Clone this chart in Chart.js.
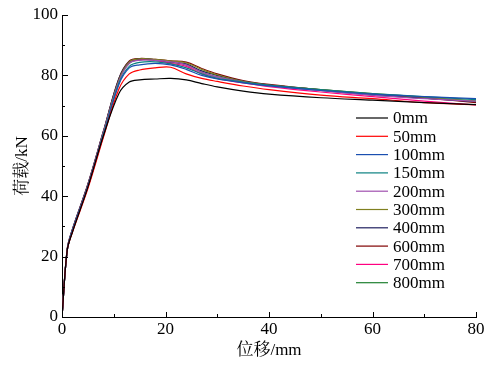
<!DOCTYPE html>
<html>
<head>
<meta charset="utf-8">
<script src="https://cdn.jsdelivr.net/npm/chart.js@4.4.1/dist/chart.umd.min.js"></script>
<style>
  html, body { margin: 0; padding: 0; background: #fff; }
  #wrap { width: 501px; height: 365px; }
</style>
</head>
<body>
<div id="wrap"><canvas id="c"></canvas></div>
<script>
// displacement (mm), shared by all curves
const dispMm = [0, 1, 2, 5, 8, 11, 13, 15, 18, 21, 24, 27, 30, 35, 40, 50, 60, 70, 80];

// load (kN) per spacing
const load0   = [0, 22, 28, 43, 60, 74, 77.8, 78.5, 78.8, 79, 78.5, 77.3, 76.2, 74.8, 73.8, 72.6, 71.8, 71, 70.3];
const load50  = [0, 22, 28, 42.5, 59.5, 75.5, 80.5, 81.8, 82.5, 82.7, 80.5, 79, 78, 76.5, 75.3, 73.5, 72.3, 71, 70.3];
const load100 = [0, 22, 28.5, 43, 60, 77, 82.5, 83.5, 84, 83.5, 82, 80, 78.8, 77.5, 76.5, 75, 73.8, 73, 72.3];
const load150 = [0, 22, 28.5, 43, 60.5, 77.5, 83, 84.3, 84.5, 83.8, 82.5, 80.5, 79, 77.8, 76.8, 75.3, 74, 73, 72];
const load200 = [0, 22, 28.5, 43.5, 61, 78, 84, 85, 85, 84.5, 83.5, 81, 79.5, 77.8, 76.5, 75, 73.5, 72.3, 71.5];
const load300 = [0, 22, 28.5, 43.5, 61, 78.5, 84.5, 85.5, 85.3, 84.8, 84.2, 82, 80.2, 78, 76.8, 75.3, 74, 72.8, 71.5];
const load400 = [0, 22.5, 29, 44, 61.5, 79, 84.5, 85.5, 85.2, 84.5, 83.8, 81.5, 80, 78, 76.8, 75, 73.5, 72.5, 71.3];
const load600 = [0, 22.5, 29, 44, 61.5, 79, 84.8, 85.6, 85.3, 84.8, 84.4, 82.3, 80.5, 78.3, 77, 75.2, 73.8, 72.5, 71];
const load700 = [0, 22, 28.5, 43.5, 61, 78.5, 84.3, 85.3, 85, 84, 83, 80.5, 79, 77.5, 76.3, 74.5, 73, 71.5, 70.2];
const load800 = [0, 22, 28.5, 43.5, 61, 78.5, 84, 85.2, 85, 84.3, 83.5, 81, 79.5, 77.8, 76.8, 75.3, 73.8, 72.5, 71.5];

const seriesLabels = ['0mm', '50mm', '100mm', '150mm', '200mm', '300mm', '400mm', '600mm', '700mm', '800mm'];
const seriesValues = [load0, load50, load100, load150, load200, load300, load400, load600, load700, load800];
const seriesColors = ['#000000', '#ff0000', '#1a4fb0', '#0a8080', '#a050b0', '#808020', '#202060', '#800000', '#ff0080', '#208030'];

const xTicks = [0, 20, 40, 60, 80];
const yTicks = [0, 20, 40, 60, 80, 100];

const SERIF = '"Liberation Serif"';
const SERIF_CJK = '"Liberation Serif", "Noto Serif CJK SC"';

const datasets = seriesLabels.map((label, i) => ({
  label,
  data: dispMm.map((x, j) => ({ x, y: seriesValues[i][j] })),
  borderColor: seriesColors[i],
  backgroundColor: seriesColors[i],
  borderWidth: 1.2,
  pointRadius: 0,
  tension: 0.35
}));

// inward tick marks (major on labelled values, minor in between) + inset legend
const chartDecor = {
  id: 'chartDecor',
  afterDraw(chart) {
    const ctx = chart.ctx;
    const { left, bottom } = chart.chartArea;
    const xs = chart.scales.x, ys = chart.scales.y;
    ctx.save();
    ctx.strokeStyle = '#000';
    ctx.lineWidth = 1;
    ctx.beginPath();
    for (let v = 0; v <= 80; v += 10) {
      const px = Math.round(xs.getPixelForValue(v)) + 0.5;
      const len = xTicks.includes(v) ? 5 : 3;
      ctx.moveTo(px, bottom); ctx.lineTo(px, bottom - len);
    }
    for (let v = 0; v <= 100; v += 10) {
      const py = Math.round(ys.getPixelForValue(v)) + 0.5;
      const len = yTicks.includes(v) ? 6 : 3;
      ctx.moveTo(left, py); ctx.lineTo(left + len, py);
    }
    ctx.stroke();

    // legend
    ctx.font = '17px ' + SERIF;
    ctx.textBaseline = 'middle';
    ctx.textAlign = 'left';
    ctx.fillStyle = '#000';
    chart.data.datasets.forEach((ds, i) => {
      const y = 118 + i * 18.3;
      ctx.strokeStyle = ds.borderColor;
      ctx.lineWidth = 1.2;
      ctx.beginPath();
      ctx.moveTo(356, y); ctx.lineTo(388, y);
      ctx.stroke();
      ctx.fillText(ds.label, 393, y + 1);
    });
    ctx.restore();
  }
};

new Chart(document.getElementById('c'), {
  type: 'line',
  data: { datasets },
  options: {
    responsive: true,
    maintainAspectRatio: false,
    animation: false,
    layout: { padding: { top: 15, right: 25, left: 0, bottom: 0 } },
    plugins: { legend: { display: false }, tooltip: { enabled: false } },
    scales: {
      x: {
        type: 'linear', min: 0, max: 80,
        afterFit: s => { s.height = 48; },
        afterBuildTicks: s => { s.ticks = xTicks.map(v => ({ value: v })); },
        border: { color: '#000', width: 1 },
        grid: { display: false, drawTicks: false },
        ticks: { color: '#000', padding: 2, font: { family: SERIF, size: 17 }, maxRotation: 0 },
        title: { display: true, text: '位移/mm', color: '#000', font: { family: SERIF_CJK, size: 17 }, padding: { top: 0, bottom: 4 } }
      },
      y: {
        type: 'linear', min: 0, max: 100,
        afterFit: s => { s.width = 62; },
        afterBuildTicks: s => { s.ticks = yTicks.map(v => ({ value: v })); },
        border: { color: '#000', width: 1 },
        grid: { display: false, drawTicks: false },
        ticks: { color: '#000', padding: 4, font: { family: SERIF, size: 17 } },
        title: { display: true, text: '荷载/kN', color: '#000', font: { family: SERIF_CJK, size: 17 }, padding: { top: 12, bottom: 0 } }
      }
    }
  },
  plugins: [chartDecor]
});
</script>
</body>
</html>
